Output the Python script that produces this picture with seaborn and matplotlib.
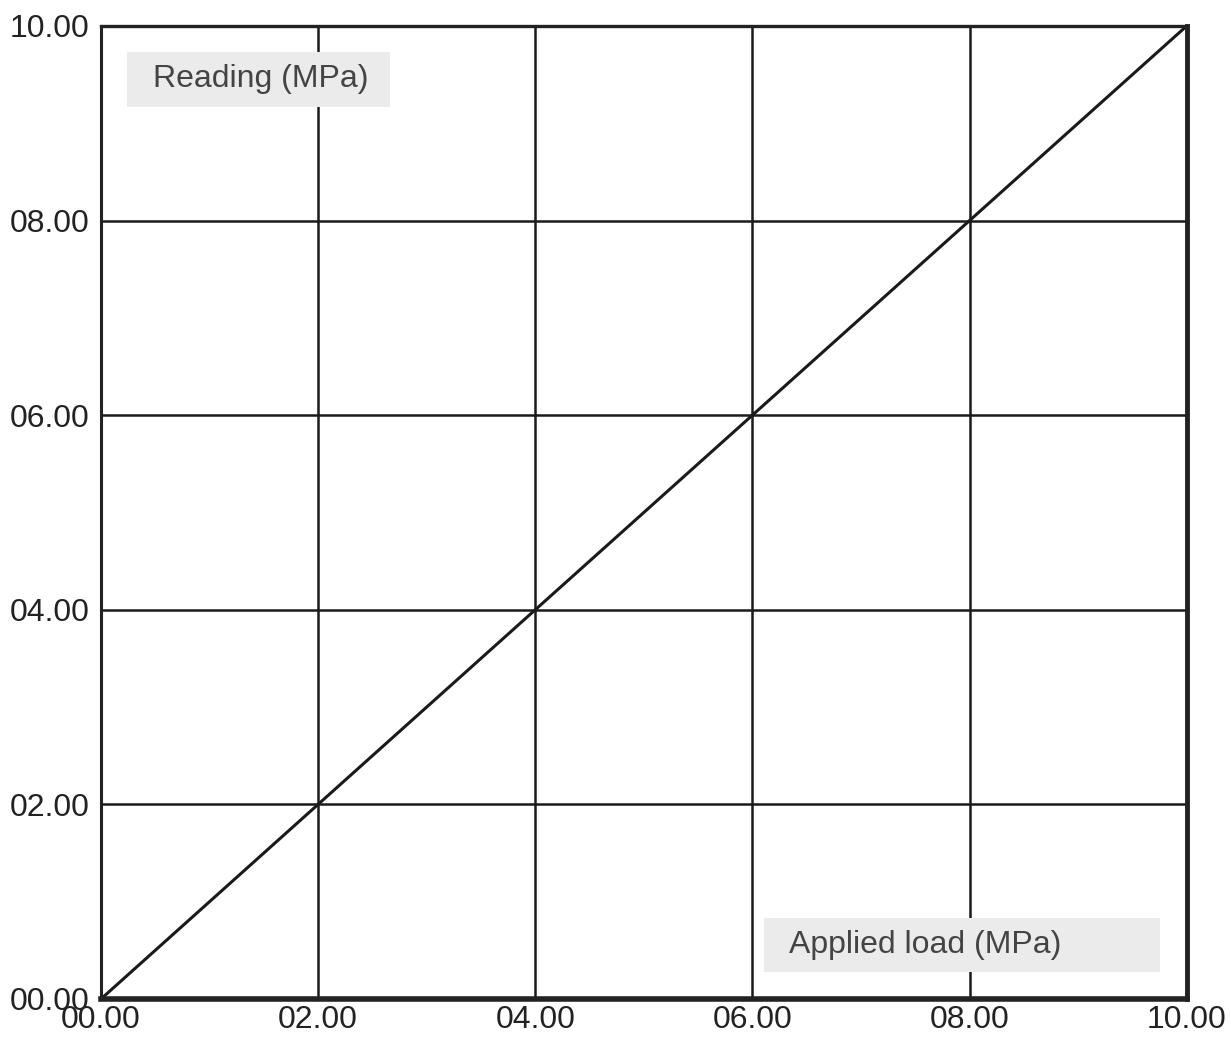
import numpy as np
import matplotlib
matplotlib.use("Agg")
import matplotlib.pyplot as plt
import seaborn as sns
from matplotlib.patches import Rectangle
from matplotlib.ticker import FormatStrFormatter

# data: reading vs applied load (1:1 calibration)
applied_load = [0.0, 2.0, 4.0, 6.0, 8.0, 10.0]
reading = [0.0, 2.0, 4.0, 6.0, 8.0, 10.0]
ticks = [0, 2, 4, 6, 8, 10]

sns.set_style("white")
plt.rcParams["font.family"] = ["Liberation Sans", "DejaVu Sans"]

fig = plt.figure(figsize=(12.31, 10.39), dpi=100)
ax = fig.add_axes([0.082, 0.0385, 0.882, 0.9365])

sns.lineplot(x=applied_load, y=reading, ax=ax, color="#1a1a1a", linewidth=2.2)

ax.set_xlim(0, 10)
ax.set_ylim(0, 10)
ax.set_xticks(ticks)
ax.set_yticks(ticks)
ax.xaxis.set_major_formatter(FormatStrFormatter("%05.2f"))
ax.yaxis.set_major_formatter(FormatStrFormatter("%05.2f"))
ax.tick_params(axis="both", labelsize=23, length=0, colors="#222222")
ax.tick_params(axis="x", pad=4)
ax.tick_params(axis="y", pad=8)

ax.grid(True, color="#1a1a1a", linewidth=1.8)
ax.set_axisbelow(True)
for side, lw in {"left": 2.2, "top": 2.4, "right": 3.5, "bottom": 4.0}.items():
    ax.spines[side].set_visible(True)
    ax.spines[side].set_color("#222222")
    ax.spines[side].set_linewidth(lw)

# label boxes inside the plot
ax.add_patch(Rectangle((0.24, 9.17), 2.42, 0.56, facecolor="#ebebeb",
                       edgecolor="none", zorder=3))
ax.text(0.48, 9.45, "Reading (MPa)", fontsize=23, color="#444444",
        ha="left", va="center", zorder=4)
ax.add_patch(Rectangle((6.11, 0.28), 3.64, 0.55, facecolor="#ebebeb",
                       edgecolor="none", zorder=3))
ax.text(6.34, 0.555, "Applied load (MPa)", fontsize=23, color="#444444",
        ha="left", va="center", zorder=4)

fig.savefig("out.png", dpi=100)
